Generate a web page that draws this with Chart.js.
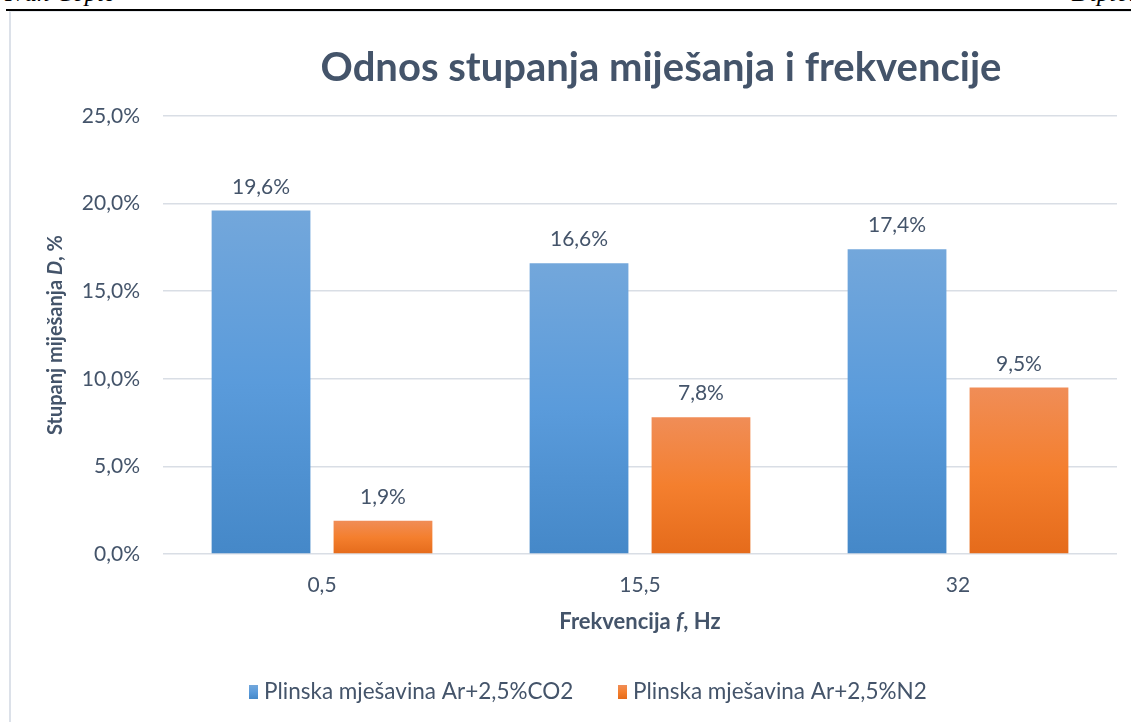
<!DOCTYPE html>
<html>
<head>
<meta charset="utf-8">
<script src="https://cdn.jsdelivr.net/npm/chart.js@4/dist/chart.umd.min.js"></script>
<style>
  html, body { margin: 0; padding: 0; background: #fff; width: 1131px; height: 722px; overflow: hidden; }
  #page { position: relative; width: 1131px; height: 722px; overflow: hidden; }
  .hdr { position: absolute; font-family: "Liberation Serif", serif; font-style: italic; font-size: 25px; line-height: 25px; color: #000; white-space: nowrap; }
  #rule { position: absolute; left: 6px; top: 9px; width: 1125px; height: 2px; background: #000; }
  #frame { position: absolute; left: 9px; top: 11px; width: 1140px; height: 720px; border-left: 2px solid #DCE1E9; border-top: 1px solid #E6E9EE; }
  #chart { position: absolute; left: 0; top: 0; }
</style>
</head>
<body>
<div id="page">
  <div class="hdr" style="left:5px; top:-20px;">Ivan Čopić</div>
  <div class="hdr" style="left:1072px; top:-20px;">Diplomski rad</div>
  <div id="rule"></div>
  <div id="frame"></div>
  <canvas id="chart" width="1131" height="722"></canvas>
</div>
<script>
// Mixing degree (%) at each pulse frequency, per shielding gas
const categories = ['0,5', '15,5', '32'];
const co2Values = [19.6, 16.6, 17.4];
const n2Values = [1.9, 7.8, 9.5];
const seriesNames = ['Plinska mješavina Ar+2,5%CO2', 'Plinska mješavina Ar+2,5%N2'];
const yTicks = [0, 5, 10, 15, 20, 25];
const chartTitle = 'Odnos stupanja miješanja i frekvencije';
// axis titles as runs: [text, italic]
const xTitleRuns = [['Frekvencija ', false], ['f', true], [', Hz', false]];
const yTitleRuns = [['Stupanj miješanja ', false], ['D', true], [', %', false]];

const FONT = 'Lato';
const TEXT = '#44546A';
const blueStops = ['#73A7DB', '#5A9BDB', '#4588C8'];
const orangeStops = ['#F08D57', '#F47F2E', '#E56B1B'];

function fmtPct(v) { return v.toFixed(1).replace('.', ',') + '%'; }

function barGradient(stops) {
  return function (ctx) {
    const chart = ctx.chart;
    const y = chart.scales && chart.scales.y;
    if (ctx.type !== 'data' || !y || !chart.chartArea) return stops[1];
    const top = y.getPixelForValue(ctx.raw);
    const bottom = y.getPixelForValue(0);
    const g = chart.ctx.createLinearGradient(0, top, 0, bottom);
    g.addColorStop(0, stops[0]);
    g.addColorStop(0.5, stops[1]);
    g.addColorStop(1, stops[2]);
    return g;
  };
}

function drawRuns(ctx, runs, cx, cy, size) {
  let total = 0;
  const widths = runs.map(([t, it]) => {
    ctx.font = (it ? 'italic ' : '') + 'bold ' + size + 'px ' + FONT;
    const w = ctx.measureText(t).width;
    total += w;
    return w;
  });
  let x = cx - total / 2;
  ctx.textAlign = 'left';
  ctx.textBaseline = 'middle';
  runs.forEach(([t, it], i) => {
    ctx.font = (it ? 'italic ' : '') + 'bold ' + size + 'px ' + FONT;
    ctx.fillText(t, x, cy);
    x += widths[i];
  });
}

const decorations = {
  id: 'decorations',
  afterDatasetsDraw(chart) {
    const ctx = chart.ctx;
    ctx.save();
    // value labels above bars
    ctx.fillStyle = TEXT;
    ctx.font = '21px ' + FONT;
    ctx.textAlign = 'center';
    ctx.textBaseline = 'alphabetic';
    chart.data.datasets.forEach((ds, di) => {
      chart.getDatasetMeta(di).data.forEach((bar, i) => {
        ctx.fillText(fmtPct(ds.data[i]), bar.x, bar.y - 17);
      });
    });
    ctx.restore();
  },
  afterDraw(chart) {
    const ctx = chart.ctx;
    const area = chart.chartArea;
    ctx.save();
    ctx.fillStyle = TEXT;
    // chart title
    ctx.font = 'bold 40px ' + FONT;
    ctx.textAlign = 'center';
    ctx.textBaseline = 'alphabetic';
    ctx.fillText(chartTitle, 661, 81);
    // x axis title
    drawRuns(ctx, xTitleRuns, (area.left + area.right) / 2, 622, 22);
    // y axis title
    ctx.save();
    ctx.translate(56, (area.top + area.bottom) / 2);
    ctx.rotate(-Math.PI / 2);
    drawRuns(ctx, yTitleRuns, 0, 0, 20);
    ctx.restore();
    // legend
    const items = [
      { x: 249, stops: blueStops, text: seriesNames[0] },
      { x: 618, stops: orangeStops, text: seriesNames[1] }
    ];
    ctx.font = '22.5px ' + FONT;
    ctx.textAlign = 'left';
    ctx.textBaseline = 'middle';
    items.forEach(it => {
      const g = ctx.createLinearGradient(0, 685, 0, 699);
      g.addColorStop(0, it.stops[0]);
      g.addColorStop(0.5, it.stops[1]);
      g.addColorStop(1, it.stops[2]);
      ctx.fillStyle = g;
      ctx.fillRect(it.x, 685, 9, 14);
      ctx.fillStyle = TEXT;
      ctx.fillText(it.text, it.x + 15, 692);
    });
    ctx.restore();
  }
};

new Chart(document.getElementById('chart'), {
  type: 'bar',
  data: {
    labels: categories,
    datasets: [
      { label: seriesNames[0], data: co2Values, backgroundColor: barGradient(blueStops), borderWidth: 0 },
      { label: seriesNames[1], data: n2Values, backgroundColor: barGradient(orangeStops), borderWidth: 0 }
    ]
  },
  options: {
    responsive: false,
    animation: false,
    events: [],
    layout: { padding: { left: 10, right: 14, top: 116, bottom: 78 } },
    datasets: { bar: { categoryPercentage: 0.767, barPercentage: 0.81 } },
    plugins: { legend: { display: false }, title: { display: false }, tooltip: { enabled: false } },
    scales: {
      x: {
        grid: { display: false },
        border: { display: false },
        ticks: { color: TEXT, font: { family: FONT, size: 21 }, padding: 11 },
        afterFit(s) { s.height = 90; }
      },
      y: {
        min: 0,
        max: 25,
        afterBuildTicks(s) { s.ticks = yTicks.map(v => ({ value: v })); },
        ticks: { color: TEXT, font: { family: FONT, size: 21 }, padding: 23, callback: v => fmtPct(v) },
        grid: { color: '#D9DEE5', lineWidth: 1.5, drawTicks: false },
        border: { display: false },
        afterFit(s) { s.width = 153; }
      }
    }
  },
  plugins: [decorations]
});
</script>
</body>
</html>
